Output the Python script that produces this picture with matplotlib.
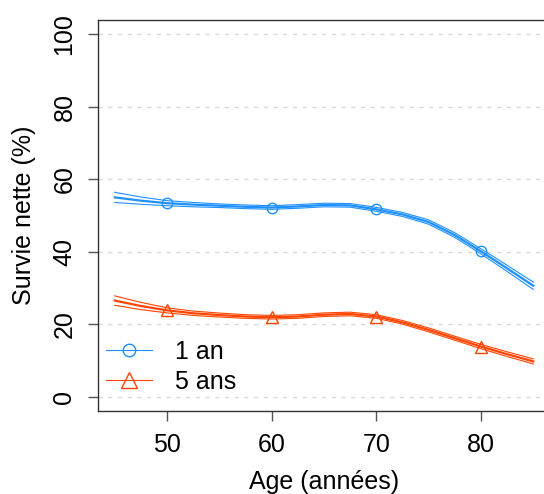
import matplotlib
matplotlib.use("Agg")
import matplotlib.pyplot as plt

plt.rcParams['font.family'] = ['Liberation Sans', 'DejaVu Sans']

# ages (every 2.5 years)
ages = [45, 47.5, 50, 52.5, 55, 57.5, 60, 62.5, 65, 67.5, 70, 72.5, 75, 77.5, 80, 82.5, 85]

an1 = [55.0, 54.1, 53.4, 53.0, 52.7, 52.4, 52.2, 52.5, 52.9, 52.8, 51.7, 50.3, 48.2, 44.6, 40.1, 35.4, 30.6]
an1_hi = [56.4, 55.1, 54.1, 53.6, 53.2, 52.9, 52.7, 53.0, 53.4, 53.3, 52.25, 50.85, 48.8, 45.25, 40.8, 36.25, 31.6]
an1_lo = [53.6, 53.1, 52.7, 52.4, 52.2, 51.9, 51.7, 52.0, 52.4, 52.3, 51.15, 49.75, 47.6, 43.95, 39.4, 34.55, 29.6]

ans5 = [26.5, 25.0, 23.8, 23.0, 22.5, 22.1, 21.9, 22.1, 22.6, 22.8, 22.1, 20.5, 18.4, 16.1, 13.8, 11.7, 9.7]
ans5_hi = [27.8, 26.0, 24.5, 23.6, 23.05, 22.6, 22.4, 22.6, 23.1, 23.3, 22.6, 21.0, 18.95, 16.65, 14.4, 12.35, 10.4]
ans5_lo = [25.2, 24.0, 23.1, 22.4, 21.95, 21.6, 21.4, 21.6, 22.1, 22.3, 21.6, 20.0, 17.85, 15.55, 13.2, 11.05, 9.0]

# markers
mark_ages = [50, 60, 70, 80]
an1_mark = [53.4, 52.2, 51.7, 40.1]
ans5_mark = [23.8, 21.9, 22.1, 13.8]

blue = '#1E90FF'
red = '#FF4500'

fig = plt.figure(figsize=(5.44, 4.94), dpi=100)
ax = fig.add_axes([98/544, 1-411/494, (550-98)/544, (411-20)/494])

for y in [0, 20, 40, 60, 80, 100]:
    ax.axhline(y, color='#D9D9D9', lw=1, ls=(0, (3, 4)), zorder=0)

ax.plot(ages, an1_hi, color=blue, lw=0.8)
ax.plot(ages, an1_lo, color=blue, lw=0.8)
ax.plot(ages, an1, color=blue, lw=1.6)
ax.plot(mark_ages, an1_mark, ls='none', marker='o', ms=7.5, mfc='none', mec=blue, mew=1)

ax.plot(ages, ans5_hi, color=red, lw=0.8)
ax.plot(ages, ans5_lo, color=red, lw=0.8)
ax.plot(ages, ans5, color=red, lw=1.6)
ax.plot(mark_ages, ans5_mark, ls='none', marker='^', ms=8.5, mfc='none', mec=red, mew=1)

h1, = ax.plot([], [], color=blue, lw=0.8, marker='o', ms=9, mfc='none', mec=blue, mew=1)
h2, = ax.plot([], [], color=red, lw=0.8, marker='^', ms=11, mfc='none', mec=red, mew=1)
ax.legend([h1, h2], ['1 an', '5 ans'], loc='lower left', bbox_to_anchor=(-0.015, 0.005),
          frameon=False, fontsize=18, handlelength=1.85, handletextpad=0.9,
          labelspacing=0.25, borderaxespad=0.2)

ax.set_xlim(43.4, 86.6)
ax.set_ylim(-4, 104)
ax.set_xticks([50, 60, 70, 80])
ax.set_yticks([0, 20, 40, 60, 80, 100])
ax.tick_params(axis='both', labelsize=18, length=7.5, width=1, color='#555555', direction='out')
ax.tick_params(axis='x', pad=8)
ax.tick_params(axis='y', pad=8)
for lab in ax.get_yticklabels():
    lab.set_rotation(90)
    lab.set_va('center')

for s in ['left', 'top', 'bottom']:
    ax.spines[s].set_color('#333333')
    ax.spines[s].set_linewidth(1)
ax.spines['right'].set_visible(False)

ax.set_xlabel('Age (années)', fontsize=18, labelpad=10)
ax.set_ylabel('Survie nette (%)', fontsize=18, labelpad=12)

fig.savefig('out.png', dpi=100)
